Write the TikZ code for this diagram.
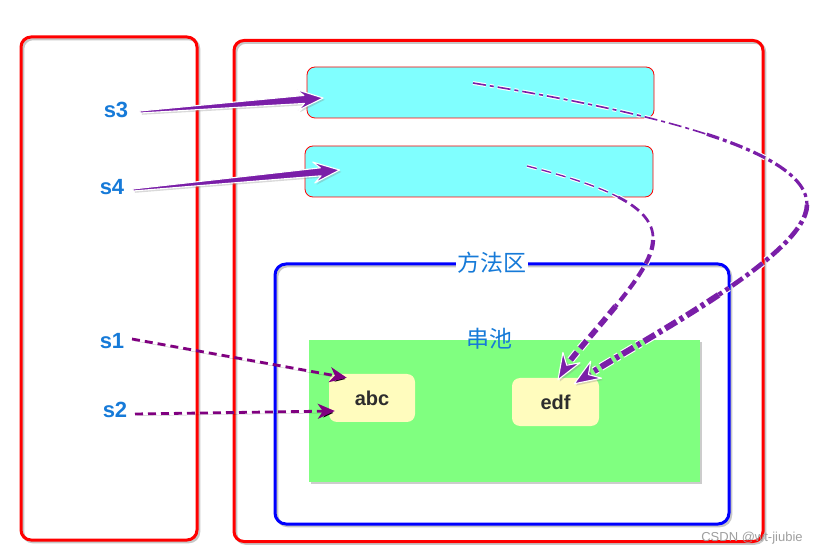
\documentclass[tikz,border=0pt]{standalone}
\usepackage{fontspec}
\setmainfont{Liberation Sans}
\newfontfamily\cjkfont{Noto Sans CJK SC}
\usetikzlibrary{arrows.meta,calc,shadows}

\definecolor{framered}{RGB}{255,0,0}
\definecolor{areablue}{RGB}{0,0,255}
\definecolor{slotcyan}{RGB}{128,255,255}
\definecolor{poolgreen}{RGB}{128,255,128}
\definecolor{strfill}{RGB}{255,252,190}
\definecolor{refpurple}{RGB}{128,0,128}
\definecolor{fatpurple}{RGB}{122,30,168}
\definecolor{labelblue}{RGB}{22,122,216}
\definecolor{strtext}{RGB}{45,45,45}

\tikzset{
  lineshadow/.style={preaction={draw=black,draw opacity=0.22,
      transform canvas={shift={(1.8pt,-1.8pt)}}}},
  frame/.style={draw=framered,line width=3pt,rounded corners=10pt,lineshadow},
  area/.style={draw=areablue,line width=3pt,rounded corners=11pt,lineshadow},
  slot/.style={draw=framered,line width=0.8pt,fill=slotcyan,rounded corners=8pt},
  pool/.style={fill=poolgreen,
      drop shadow={shadow xshift=2pt,shadow yshift=-2pt,opacity=0.4}},
  strbox/.style={fill=strfill,rounded corners=8pt,text=strtext,
      font=\fontsize{20}{20}\selectfont\bfseries},
  varlabel/.style={text=labelblue,inner sep=0pt,
      font=\fontsize{22}{22}\selectfont\bfseries},
  arealabel/.style={text=labelblue,inner sep=1.5pt,
      font=\cjkfont\fontsize{23}{23}\selectfont},
  refline/.style={draw=refpurple,line width=2.8pt,dash pattern=on 8pt off 5pt,
      -{Stealth[length=17pt,width=15pt,inset=5pt]},lineshadow},
  fatshape/.style={fill=fatpurple,draw=white,line width=1.1pt,line join=round,
      drop shadow={shadow xshift=1.8pt,shadow yshift=-1.8pt,opacity=0.3}},
  dashcurve/.style={draw=white,double=fatpurple,line width=1.1pt,
      dash pattern=on 10pt off 5pt},
  dotcurve/.style={draw=white,double=fatpurple,line width=1.1pt,
      dash pattern=on 13pt off 4pt on 4pt off 4pt},
}

% tapered arrow from #1 (tail) to #2 (tip)
\newcommand\fatarrow[2]{%
  \filldraw[fatshape]
    ($(#1)!1pt!90:(#2)$) --
    ($(#2)!19pt!(#1)!4pt!-90:(#1)$) --
    ($(#2)!26pt!(#1)!10.5pt!-90:(#1)$) --
    (#2) --
    ($(#2)!26pt!(#1)!10.5pt!90:(#1)$) --
    ($(#2)!19pt!(#1)!4pt!90:(#1)$) --
    ($(#1)!1pt!-90:(#2)$) -- cycle;}

% arrow head at #2, pointing away from #1
\newcommand\fathead[2]{%
  \filldraw[fatshape]
    (#2) --
    ($(#2)!26pt!(#1)!10pt!90:(#1)$) --
    ($(#2)!17pt!(#1)$) --
    ($(#2)!26pt!(#1)!10pt!-90:(#1)$) -- cycle;}

\begin{document}
\begin{tikzpicture}[x=1pt,y=-1pt]
\useasboundingbox (0,0) rectangle (823,556);

% stack and heap frames
\node[frame,minimum width=176pt,minimum height=503pt] (stack) at (109,288.5) {};
\node[frame,minimum width=529pt,minimum height=501pt] (heap) at (498.5,291) {};

% object slots
\node[slot,minimum width=347pt,minimum height=51pt] (slotA) at (480.5,92.5) {};
\node[slot,minimum width=348pt,minimum height=51pt] (slotB) at (479,171.5) {};

% method area and string pool
\node[area,minimum width=454pt,minimum height=260pt] (method) at (502,394) {};
\node[pool,minimum width=391pt,minimum height=142pt] (pool) at (504.5,411) {};
\node[arealabel,fill=white] (methodlbl) at (492,263) {方法区};
\node[arealabel] (poollbl) at (489,339) {串池};

% strings in the pool
\node[strbox,minimum width=86pt,minimum height=48pt] (abc) at (372,398) {abc};
\node[strbox,minimum width=87pt,minimum height=48pt] (edf) at (555.5,402) {edf};

% variables
\node[varlabel] (s3) at (116,110) {s3};
\node[varlabel] (s4) at (112,187) {s4};
\node[varlabel] (s1) at (112,341) {s1};
\node[varlabel] (s2) at (115,410) {s2};

% s1, s2 point straight into the pool
\coordinate (s1tail) at ($(s1)+(20,-2)$);
\coordinate (s1tip) at ($(abc.north west)+(18,4)$);
\coordinate (s2tail) at ($(s2)+(20,4)$);
\coordinate (s2tip) at ($(abc.west)+(6,13)$);
\draw[refline] (s1tail) -- (s1tip);
\draw[refline] (s2tail) -- (s2tip);

% s3, s4 point to heap objects
\coordinate (s3tail) at ($(s3)+(24,2)$);
\coordinate (s3tip) at ($(slotA.west)+(16.5,5.5)$);
\coordinate (s4tail) at ($(s4)+(21,3)$);
\coordinate (s4tip) at ($(slotB.west)+(35,-1.5)$);
\fatarrow{s3tail}{s3tip}
\fatarrow{s4tail}{s4tip}

% slot B -> "edf": dashed, growing thicker towards the pool
\coordinate (d0) at ($(slotB.center)+(48,-5.5)$);
\coordinate (d1) at (618.1,197);
\coordinate (d2) at (653,240);
\coordinate (d3) at (615.6,306.25);
\coordinate (dback) at (571.5,357.5);
\coordinate (dtip) at ($(edf.north)+(2.5,2)$);
\draw[dashcurve,double distance=1.3pt] (d0) .. controls (563.5,175.5) and (595.5,185.25) .. (d1);
\draw[dashcurve,double distance=2.7pt] (d1) .. controls (640.75,208.75) and (654,222.5) .. (d2);
\draw[dashcurve,double distance=4.2pt] (d2) .. controls (653,257.5) and (636,281.25) .. (d3);
\draw[dashcurve,double distance=5.6pt,shorten >=16pt] (d3) .. controls (595.25,331.25) and (dback) .. (dtip);
\fathead{dback}{dtip}

% slot A -> "edf": dash-dotted, growing thicker towards the pool
\coordinate (e0) at ($(slotA.center)+(-7.5,-9.5)$);
\coordinate (e1) at (706.75,134.25);
\coordinate (e2) at (807,205);
\coordinate (e3) at (718.6,294.9);
\coordinate (eback) at (612,359.5);
\coordinate (etip) at ($(edf.north east)+(-25,6)$);
\draw[dotcurve,double distance=1.6pt] (e0) .. controls (561.5,97.5) and (645.25,114.25) .. (e1);
\draw[dotcurve,double distance=3.2pt] (e1) .. controls (768.25,154.25) and (807.5,177.5) .. (e2);
\draw[dotcurve,double distance=4.6pt] (e2) .. controls (806.5,230) and (767.25,262.5) .. (e3);
\draw[dotcurve,double distance=6pt,shorten >=16pt] (e3) .. controls (670,327.25) and (eback) .. (etip);
\fathead{eback}{etip}

% watermark
\node[text=black!38,font=\fontsize{13}{13}\selectfont] (mark) at (752,538) {CSDN @wt-jiubie};
\end{tikzpicture}
\end{document}
